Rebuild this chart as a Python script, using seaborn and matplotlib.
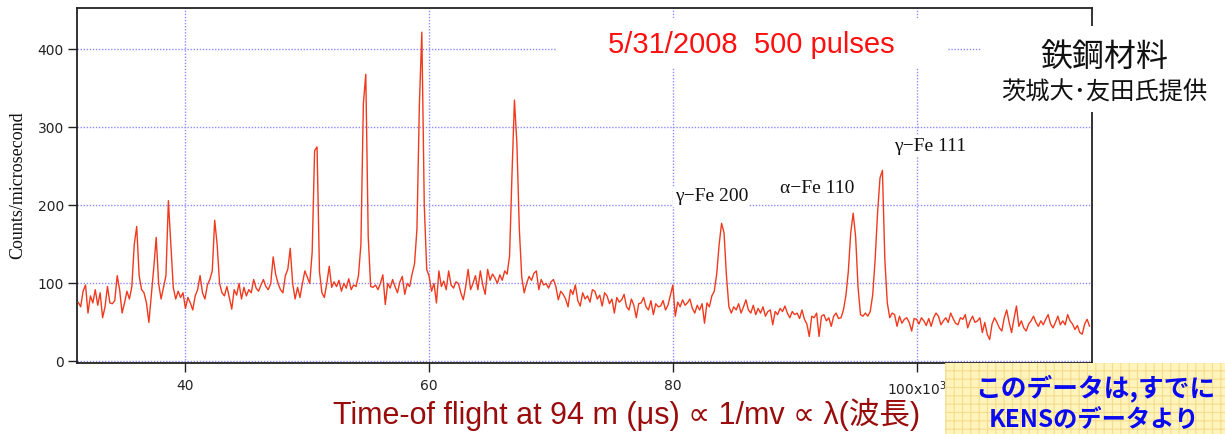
import numpy as np
import seaborn as sns
import matplotlib.pyplot as plt
from matplotlib.patches import Rectangle

# time-of-flight bins (x10^3 microseconds), 0.2 steps starting at 31.2
tof_start = 31.2
tof_step = 0.2

# counts per microsecond
counts = [
    76, 70, 90, 98, 62, 84, 75, 92, 72, 88,
    56, 70, 96, 75, 74, 78, 110, 92, 62, 75,
    90, 80, 96, 150, 173, 110, 92, 88, 75, 50,
    85, 120, 159, 100, 80, 95, 110, 206, 150, 95,
    80, 90, 82, 88, 68, 82, 75, 66, 84, 92,
    110, 88, 80, 98, 105, 116, 181, 150, 100, 88,
    84, 96, 82, 67, 92, 85, 100, 80, 95, 84,
    92, 88, 105, 94, 90, 98, 105, 96, 92, 100,
    134, 112, 100, 92, 88, 110, 118, 145, 100, 80,
    95, 82, 100, 116, 108, 100, 140, 270, 275, 115,
    88, 82, 100, 122, 95, 102, 96, 104, 90, 100,
    94, 106, 92, 98, 96, 110, 150, 330, 368, 160,
    96, 95, 98, 92, 100, 111, 73, 100, 94, 105,
    96, 88, 102, 109, 86, 100, 96, 112, 125, 170,
    330, 422, 200, 118, 109, 90, 100, 75, 116, 96,
    103, 92, 116, 98, 94, 102, 100, 88, 79, 96,
    118, 92, 100, 110, 92, 116, 98, 86, 118, 104,
    112, 107, 100, 111, 104, 116, 112, 135, 240, 335,
    280, 170, 108, 88, 100, 109, 104, 113, 116, 92,
    105, 98, 100, 94, 102, 105, 96, 79, 90, 86,
    80, 70, 92, 86, 98, 78, 71, 88, 80, 84,
    76, 92, 90, 80, 85, 71, 88, 84, 74, 80,
    62, 82, 76, 79, 86, 70, 66, 80, 72, 56,
    74, 75, 82, 70, 66, 78, 60, 74, 70, 71,
    78, 66, 72, 85, 98, 58, 76, 70, 79, 72,
    75, 80, 68, 62, 72, 66, 74, 49, 75, 70,
    84, 90, 112, 150, 177, 165, 110, 70, 62, 70,
    66, 74, 62, 70, 79, 66, 62, 72, 60, 68,
    62, 70, 58, 64, 66, 47, 64, 60, 68, 64,
    71, 62, 56, 64, 60, 62, 55, 66, 54, 48,
    32, 58, 56, 62, 32, 58, 60, 52, 56, 45,
    58, 62, 55, 56, 66, 84, 115, 165, 190, 160,
    95, 60, 58, 62, 58, 64, 85, 130, 190, 235,
    245, 130, 75, 56, 62, 60, 45, 58, 49, 54,
    56, 50, 39, 55, 54, 48, 56, 52, 46, 55,
    45, 56, 62, 58, 47, 52, 56, 50, 62, 55,
    49, 47, 56, 54, 60, 43, 52, 58, 50, 52,
    56, 37, 50, 35, 28, 48, 56, 50, 43, 39,
    56, 66, 50, 37, 55, 71, 45, 52, 43, 39,
    48, 52, 58, 50, 45, 52, 47, 54, 60, 48,
    43, 50, 58, 47, 52, 47, 60, 52, 48, 41,
    46, 37, 35, 48, 54, 45,
]

x_ticks = [40, 60, 80, 100]
x_tick_labels = ['40', '60', '80', '100x10$^{3}$']
y_ticks = [0, 100, 200, 300, 400]

peak_labels = ['γ−Fe 200', 'α−Fe 110', 'γ−Fe 111']
peak_label_x = [80.15, 88.8, 98.15]
peak_label_y = [211, 222, 276]

tof = tof_start + tof_step * np.arange(len(counts))

sns.set_style('ticks')
plt.rcParams['font.family'] = ['DejaVu Sans', 'Noto Sans CJK JP']
plt.rcParams['hatch.color'] = '#f6dc8c'
plt.rcParams['hatch.linewidth'] = 0.8

W, H = 1225, 434
fig = plt.figure(figsize=(W / 100, H / 100), dpi=100)
ax = fig.add_axes([77 / W, 71 / H, 1015 / W, 355 / H])

sns.lineplot(x=tof, y=counts, ax=ax, color='#f03a1e', linewidth=1.0,
             estimator=None, zorder=3)

ax.set_xlim(31.1, 114.4)
ax.set_ylim(-2, 453)
ax.set_xticks(x_ticks)
ax.set_xticklabels(x_tick_labels)
ax.set_yticks(y_ticks)
ax.tick_params(direction='out', length=6.5, width=1, color='#222222',
               labelcolor='#222222', labelsize=10)
ax.tick_params(axis='x', pad=5)
ax.tick_params(axis='y', pad=3)
ax.grid(True, color='#8c8cff', linestyle=(0, (1, 1.2)), linewidth=1.0)
for s in ax.spines.values():
    s.set_visible(True)
    s.set_color('#222222')
    s.set_linewidth(1.3)
ax.set_xlabel('')
ax.set_ylabel('')

# peak annotations
for lab, px, py in zip(peak_labels, peak_label_x, peak_label_y):
    ax.text(px, py, lab, ha='left', va='center', fontsize=14,
            family=['Liberation Serif', 'DejaVu Serif'], color='#111111', zorder=5,
            bbox=dict(facecolor='white', edgecolor='none', pad=1.0))

# white boxes that cover the plot behind the slide texts
def fig_rect(x0, y0, x1, y1, **kw):
    r = Rectangle((x0 / W, 1 - y1 / H), (x1 - x0) / W, (y1 - y0) / H,
                  transform=fig.transFigure, **kw)
    fig.add_artist(r)

fig_rect(557, 18, 948, 68, facecolor='white', edgecolor='none', zorder=4)
fig_rect(982, 26, 1225, 112, facecolor='white', edgecolor='none', zorder=4)
fig_rect(945, 363, 1226, 435, facecolor='#fff4bc', edgecolor='#f6dc8c',
         linewidth=0, hatch='++', zorder=4)

fig.text(608 / W, 1 - 45 / H, '5/31/2008  500 pulses', color='#ff1010',
         fontsize=21, family=['Liberation Sans', 'DejaVu Sans'],
         ha='left', va='center', zorder=6)

fig.text(1104 / W, 1 - 57 / H, '鉄鋼材料', fontsize=23, color='#111111',
         family=['Noto Sans CJK JP'], ha='center', va='center', zorder=6)
fig.text(1104 / W, 1 - 93 / H, '茨城大･友田氏提供', fontsize=17.5, color='#111111',
         family=['Noto Sans CJK JP'], ha='center', va='center', zorder=6)

fig.text(627 / W, 1 - 414 / H, 'Time-of flight at 94 m (μs) ∝ 1/mv ∝ λ(波長)',
         color='#9a0c0c', fontsize=22,
         family=['Liberation Sans', 'DejaVu Sans', 'Noto Sans CJK JP'],
         ha='center', va='center', zorder=6)

fig.text(18 / W, 1 - 185 / H, 'Counts/microsecond', rotation=90, fontsize=13,
         family=['Liberation Serif', 'DejaVu Serif'], color='#111111',
         ha='center', va='center')

fig.text(1095 / W, 1 - 388 / H, 'このデータは,すでに', color='#0a0af0',
         fontsize=18.5, fontweight='bold', family=['Noto Sans CJK JP'],
         ha='center', va='center', zorder=6)
fig.text(1094 / W, 1 - 420 / H, 'KENSのデータより', color='#0a0af0',
         fontsize=17.5, fontweight='bold', family=['Noto Sans CJK JP'],
         ha='center', va='center', zorder=6)

fig.savefig('out.png', dpi=100)
